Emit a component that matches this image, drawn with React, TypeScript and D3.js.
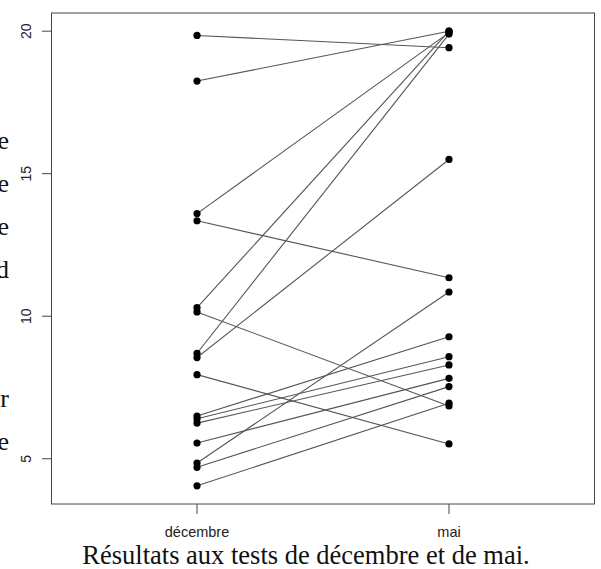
import React from "react";
import * as d3 from "d3";

const categories = ["décembre", "mai"];
const decembre = [19.85, 18.25, 13.6, 13.35, 10.3, 10.15, 8.7, 8.55, 7.95, 6.5, 6.4, 6.25, 5.55, 4.85, 4.7, 4.05];
const mai = [19.42, 20.0, 19.95, 11.35, 20.0, 6.85, 19.9, 15.5, 5.52, 9.28, 8.58, 8.29, 7.82, 10.85, 7.53, 6.95];
const yTicks = [5, 10, 15, 20];
const title = "Résultats aux tests de décembre et de mai.";
const sideLetters = [
  { ch: "e", row: 0 },
  { ch: "e", row: 1 },
  { ch: "e", row: 2 },
  { ch: "d", row: 3 },
  { ch: "r", row: 6 },
  { ch: "e", row: 7 },
];

export default function App() {
  const W = 601, H = 569;
  const box = { left: 51.5, right: 594.5, top: 13, bottom: 504 };
  const x = d3.scaleLinear().domain([0.4225, 2.5775]).range([box.left, box.right]);
  const allVals = [...decembre, ...mai];
  const ymin = d3.min(allVals)!, ymax = d3.max(allVals)!;
  const pad = (ymax - ymin) * 0.04;
  const y = d3.scaleLinear().domain([ymin - pad, ymax + pad]).range([box.bottom, box.top]);
  const pairs = decembre.map((d, i) => [d, mai[i]]);
  const line = d3.line<[number, number]>().x((p) => p[0]).y((p) => p[1]);
  const axisColor = "#444";
  const sans = "'Liberation Sans', Arial, sans-serif";
  const serif = "'Liberation Serif', 'Times New Roman', serif";

  return (
    <svg width={W} height={H} style={{ position: "absolute", left: 0, top: 0, background: "#fff" }}>
      <rect x={0} y={0} width={W} height={H} fill="#fff" />
      {sideLetters.map((s, i) => (
        <text key={i} x={9} y={149 + s.row * 43} textAnchor="end" fontFamily={serif} fontSize={26} fill="#111">
          {s.ch}
        </text>
      ))}
      {pairs.map((p, i) => (
        <path
          key={"l" + i}
          d={line([
            [x(1), y(p[0])],
            [x(2), y(p[1])],
          ])!}
          stroke="#555"
          strokeWidth={1.1}
          fill="none"
        />
      ))}
      {pairs.map((p, i) => (
        <g key={"p" + i}>
          <circle cx={x(1)} cy={y(p[0])} r={3.6} fill="#000" />
          <circle cx={x(2)} cy={y(p[1])} r={3.6} fill="#000" />
        </g>
      ))}
      <rect
        x={box.left}
        y={box.top}
        width={box.right - box.left}
        height={box.bottom - box.top}
        fill="none"
        stroke={axisColor}
        strokeWidth={1}
      />
      {yTicks.map((t) => (
        <g key={"yt" + t}>
          <line x1={box.left - 9.5} x2={box.left} y1={y(t)} y2={y(t)} stroke={axisColor} strokeWidth={1} />
          <text
            transform={`translate(31,${y(t)}) rotate(-90)`}
            textAnchor="middle"
            fontFamily={sans}
            fontSize={14}
            fill="#222"
          >
            {t}
          </text>
        </g>
      ))}
      {categories.map((c, i) => (
        <g key={"xt" + c}>
          <line x1={x(i + 1)} x2={x(i + 1)} y1={box.bottom} y2={box.bottom + 10} stroke={axisColor} strokeWidth={1} />
          <text x={x(i + 1)} y={537} textAnchor="middle" fontFamily={sans} fontSize={14.5} fill="#222">
            {c}
          </text>
        </g>
      ))}
      <text x={306} y={564} textAnchor="middle" fontFamily={serif} fontSize={26.5} fill="#111">
        {title}
      </text>
    </svg>
  );
}
